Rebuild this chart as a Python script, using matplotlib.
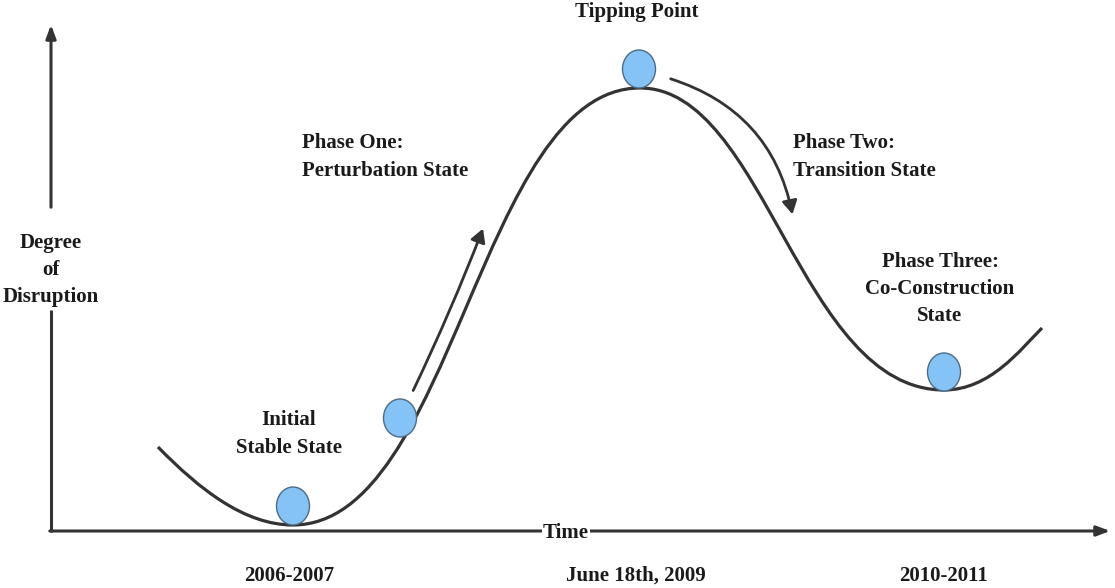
import matplotlib.pyplot as plt
from matplotlib.path import Path
from matplotlib.patches import PathPatch, Ellipse, FancyArrowPatch

# curve control points (pixel space, y down): start, min, peak, min, end
curve_x = [158, 200, 245, 293, 453, 480, 640, 765, 800, 944, 990, 1020, 1042]
curve_y = [447, 490, 525, 525, 525, 88, 88, 88, 390, 390, 390, 350, 328]

# balls on the curve
ball_x = [293, 400, 639, 944]
ball_y = [506, 418, 69, 372]

# labels
state_labels = ["Initial\nStable State", "Phase One:\nPerturbation State", "Tipping Point",
                "Phase Two:\nTransition State", "Phase Three:\nCo-Construction\nState"]
date_labels = ["2006-2007", "June 18th, 2009", "2010-2011"]
date_x = [289, 636, 943]

ink = "#333333"
font = dict(family="Liberation Serif", weight="bold", size=15, color="#1a1a1a")
ls = 1.48

fig = plt.figure(figsize=(11.15, 5.88), dpi=100)
ax = fig.add_axes([0, 0, 1, 1])
ax.set_xlim(0, 1115)
ax.set_ylim(588, 0)
ax.axis("off")

# axes of the diagram
ax.annotate("", xy=(51, 22), xytext=(51, 210),
            arrowprops=dict(arrowstyle="-|>,head_length=0.8,head_width=0.3", color=ink, lw=2.2))
ax.plot([51, 51], [310, 532], color=ink, lw=2.2, solid_capstyle="butt")
ax.annotate("", xy=(1113, 531), xytext=(47, 531),
            arrowprops=dict(arrowstyle="-|>,head_length=0.8,head_width=0.3", color=ink, lw=2.2))

# the curve
codes = [Path.MOVETO] + [Path.CURVE4] * (len(curve_x) - 1)
path = Path(list(zip(curve_x, curve_y)), codes)
ax.add_patch(PathPatch(path, facecolor="none", edgecolor=ink, lw=2.3))

# balls
for bx, by in zip(ball_x, ball_y):
    ax.add_patch(Ellipse((bx, by), 33, 38, facecolor="#85c3f6", edgecolor="#4d6a85", lw=1.0, zorder=3))

# direction arrows
ax.add_patch(FancyArrowPatch((412, 393), (484, 226), connectionstyle="arc3,rad=0.02",
                             arrowstyle="-|>,head_length=8,head_width=4.5", color=ink, lw=2.0))
ax.add_patch(FancyArrowPatch((668, 78), (793, 217), connectionstyle="arc3,rad=-0.3",
                             arrowstyle="-|>,head_length=8,head_width=4.5", color=ink, lw=2.0))

# state labels
ax.text(289, 434, state_labels[0], ha="center", va="center", linespacing=ls, **font)
ax.text(302, 157, state_labels[1], ha="left", va="center", linespacing=ls, **font)
ax.text(637, 12, state_labels[2], ha="center", va="center", **font)
ax.text(793, 157, state_labels[3], ha="left", va="center", linespacing=ls, **font)
ax.text(940, 289, state_labels[4], ha="center", va="center", linespacing=ls, **font)

# axis labels
ax.text(51, 270, "Degree\nof\nDisruption", ha="center", va="center", linespacing=ls, **font)
ax.text(566, 533, "Time", ha="center", va="center",
        bbox=dict(facecolor="white", edgecolor="none", pad=0.5), **font)
for dx, lab in zip(date_x, date_labels):
    ax.text(dx, 576, lab, ha="center", va="center", **font)

fig.savefig("out.png", dpi=100)
